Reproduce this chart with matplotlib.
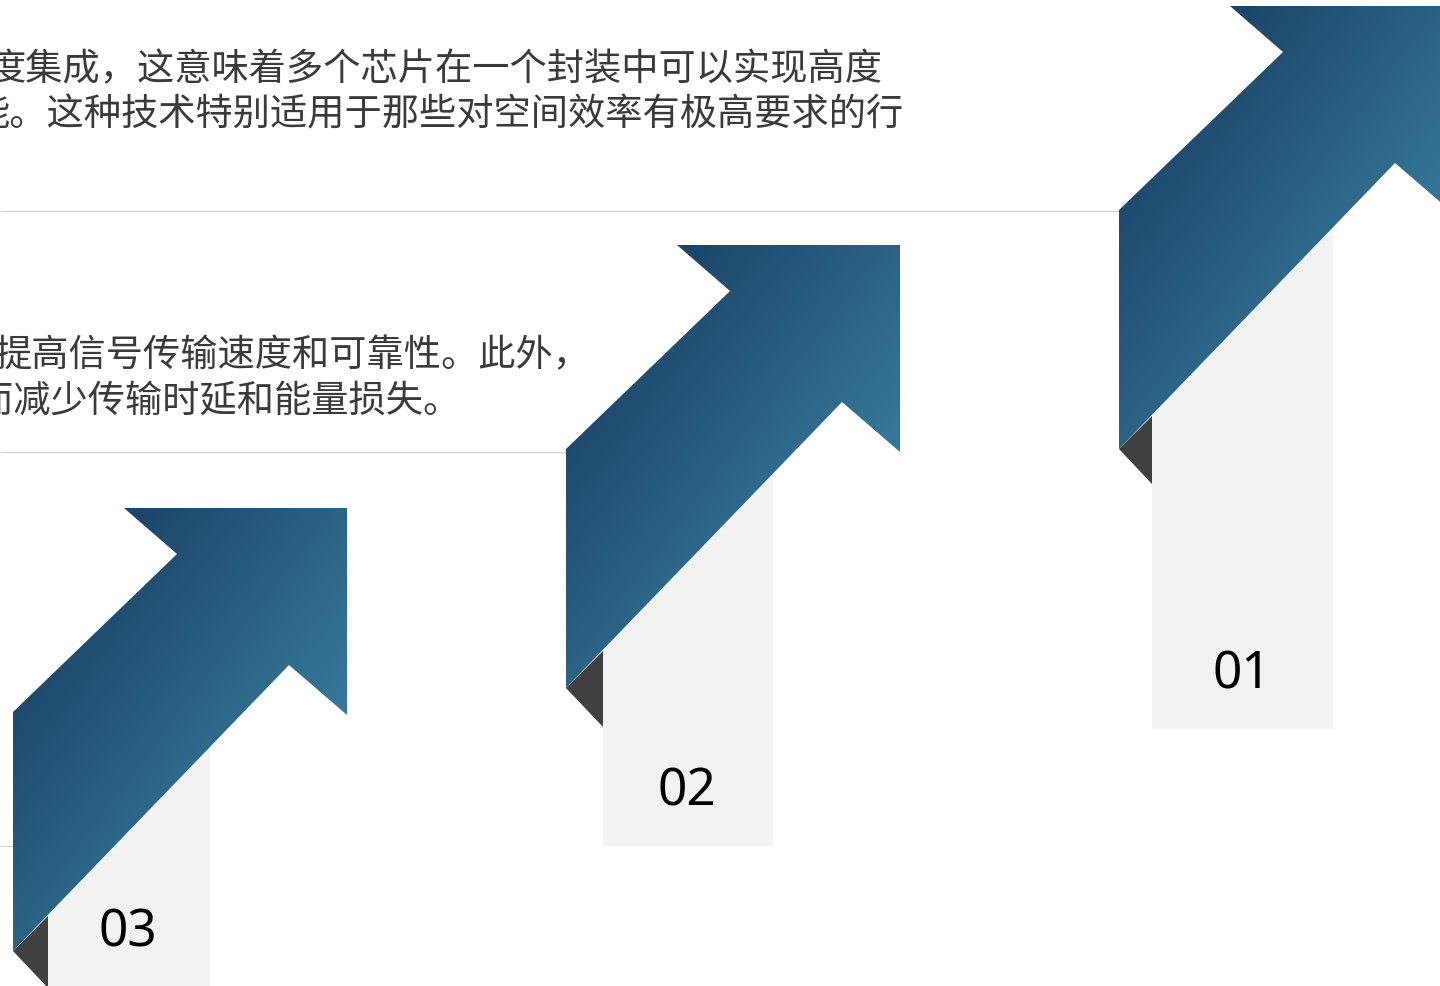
import numpy as np
import matplotlib
matplotlib.use("Agg")
import matplotlib.pyplot as plt
from matplotlib.patches import Polygon, Rectangle
from matplotlib.colors import LinearSegmentedColormap

# ---- content ----
step_labels = ["01", "02", "03"]
body_lines = [
    "度集成，这意味着多个芯片在一个封装中可以实现高度",
    "能。这种技术特别适用于那些对空间效率有极高要求的行",
    "提高信号传输速度和可靠性。此外，",
    "而减少传输时延和能量损失。",
]

# ---- layout (pixel space, origin top-left) ----
W, H = 1440, 987
arrow_shape = np.array([(0, 0), (164, -158), (111, -204), (334, -204),
                        (334, 3), (276, -47), (0, 239)], dtype=float)
arrow_anchor = [(1119, 211), (566, 450), (13, 713)]
fold_width = [33, 37, 35]
card_span = [(1152, 1333), (603, 773), (48, 210)]
card_bottom = [730, 847, 1000]
label_xy = [(1242, 675), (687, 792), (128, 933)]
text_xy = [(-11, 70), (-27, 115), (-5, 356), (-24, 401)]
rule_lines = [(212, 1119), (453, 566), (847, 13)]

c_dark, c_light = "#1b4467", "#37799b"
grad_cmap = LinearSegmentedColormap.from_list("arrow", [c_dark, c_light])

fig = plt.figure(figsize=(W / 100, H / 100), dpi=100)
ax = fig.add_axes([0, 0, 1, 1])
ax.set_xlim(0, W)
ax.set_ylim(H, 0)
ax.axis("off")

# thin separator rules
for y, x_end in rule_lines:
    ax.plot([0, x_end], [y, y], color="#d3d3d3", lw=0.9, zorder=1,
            solid_capstyle="butt")

# body text
for (x, y), line in zip(text_xy, body_lines):
    ax.text(x, y, line, ha="left", va="center", fontsize=26.8,
            color="#3a3a3a", family=["Noto Sans CJK SC", "DejaVu Sans"],
            zorder=2)

for i, label in enumerate(step_labels):
    ax0, ay0 = arrow_anchor[i]
    pts = arrow_shape + np.array([ax0, ay0])

    # light card behind the arrow
    cx0, cx1 = card_span[i]
    card_top = ay0 + 15
    ax.add_patch(Rectangle((cx0, card_top), cx1 - cx0, card_bottom[i] - card_top,
                           facecolor="#f2f2f2", edgecolor="none", zorder=3))

    # dark folded corner under the shaft
    fw = fold_width[i]
    bl = pts[6]
    fold = np.array([bl, (bl[0] + fw, bl[1] - fw), (bl[0] + fw, bl[1] + fw + 2)])
    ax.add_patch(Polygon(fold, closed=True, facecolor="#404040",
                         edgecolor="none", zorder=4))

    # gradient-filled arrow: diagonal ramp stretched over the shape itself
    xmin, ymin = pts.min(axis=0)
    xmax, ymax = pts.max(axis=0)
    gx = np.linspace(0, 1, 200)
    gy = np.linspace(0, 1, 260)
    GX, GY = np.meshgrid(gx, gy)
    grad = (GX + GY) / 2.0
    vt = ((pts[:, 0] - xmin) / (xmax - xmin) + (pts[:, 1] - ymin) / (ymax - ymin)) / 2.0
    poly = Polygon(pts, closed=True, facecolor="none", edgecolor="none",
                   zorder=5)
    ax.add_patch(poly)
    im = ax.imshow(grad, cmap=grad_cmap, vmin=vt.min(), vmax=vt.max(),
                   origin="upper", extent=(xmin, xmax, ymax, ymin),
                   interpolation="bilinear", zorder=5, aspect="auto")
    im.set_clip_path(poly)

    # step number
    lx, ly = label_xy[i]
    ax.text(lx, ly, label, ha="center", va="center", fontsize=37,
            color="#000000", family="Noto Sans", zorder=6)

ax.set_xlim(0, W)
ax.set_ylim(H, 0)
fig.savefig("out.png", dpi=100)
